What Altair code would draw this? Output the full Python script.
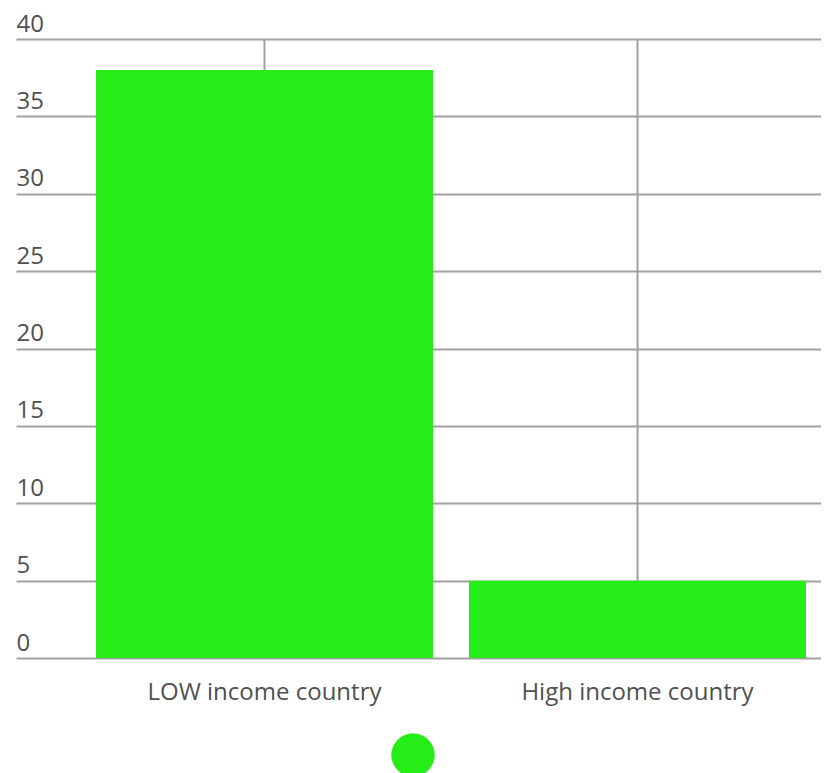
import altair as alt
import pandas as pd

categories = ["LOW income country", "High income country"]
values = [38, 5]
series = ["Series 1", "Series 1"]
y_ticks = [0, 5, 10, 15, 20, 25, 30, 35, 40]

GREEN = "#26ec17"
TEXT = "#505050"
GRID = "#a0a0a0"
FONT = "Open Sans"

df = pd.DataFrame({"category": categories, "value": values, "series": series})

chart = alt.Chart(df).mark_bar().encode(
    x=alt.X(
        "category:N",
        sort=categories,
        title=None,
        scale=alt.Scale(paddingInner=0.0965, paddingOuter=0.1273, align=0.842),
        axis=alt.Axis(
            grid=True, bandPosition=0.5, ticks=False, domain=False, labelAngle=0,
            labelFont=FONT, labelFontSize=24, labelColor=TEXT, labelLimit=0,
            labelBaseline="alphabetic", labelPadding=41,
            gridColor=GRID, gridWidth=2,
        ),
    ),
    y=alt.Y(
        "value:Q",
        title=None,
        scale=alt.Scale(domain=[0, 40], nice=False),
        axis=alt.Axis(
            values=y_ticks, ticks=False, domain=False,
            labelFont=FONT, labelFontSize=24, labelColor=TEXT,
            labelAlign="left", labelBaseline="alphabetic", labelPadding=0,
            labelOffset=-8, gridColor=GRID, gridWidth=2,
        ),
    ),
    color=alt.Color(
        "series:N",
        scale=alt.Scale(range=[GREEN]),
        legend=alt.Legend(
            orient="none", legendX=375, legendY=694, title=None,
            labelExpr="''", symbolType="circle", symbolSize=1885,
            symbolStrokeWidth=0, padding=0, symbolOffset=0,
        ),
    ),
).properties(
    width=805,
    height=619,
    padding={"left": 8, "top": 31, "right": 0, "bottom": 115},
    autosize=alt.AutoSizeParams(type="none"),
).configure_view(stroke=None)

chart.save("out.html", embed_options={"renderer": "svg", "actions": False})
